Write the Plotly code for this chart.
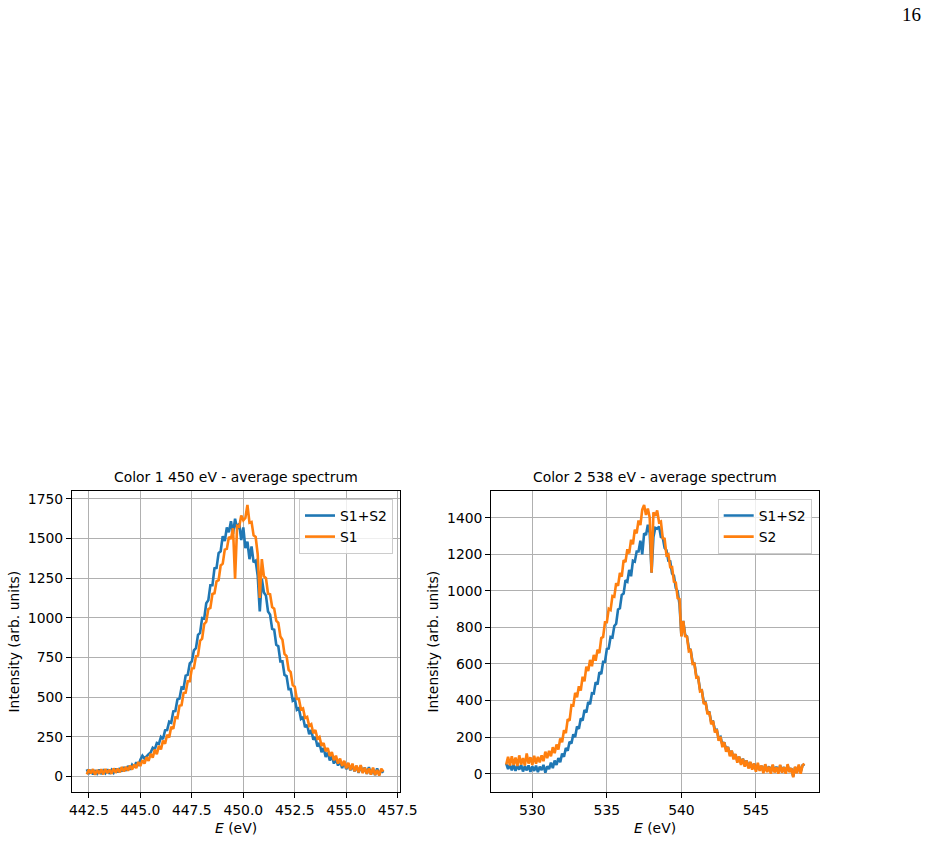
import numpy as np
import plotly.graph_objects as go

# ---------------- data ----------------
# Left panel: Color 1 (450 eV); energy grid starts at 442.4 eV, step 0.1 eV
e1_start, e1_step = 442.4, 0.1
s12_left = [45, 15, 40, 12, 38, 18, 42, 14, 36, 20, 44, 16, 40, 22, 48, 25, 52, 30, 58, 35,
            65, 42, 72, 55, 88, 66, 105, 130, 112, 128, 140, 150, 180, 170, 210, 205, 248, 235,
            290, 292, 345, 338, 410, 412, 485, 490, 560, 555, 635, 640, 712, 725, 795, 808,
            892, 905, 998, 995, 1092, 1110, 1205, 1205, 1312, 1315, 1408, 1420, 1515, 1485,
            1570, 1540, 1610, 1530, 1625, 1560, 1595, 1490, 1570, 1440, 1480, 1370, 1450,
            1350, 1360, 1265, 1040, 1245, 1160, 1140, 1040, 1020, 930, 925, 830, 820, 725,
            725, 640, 632, 550, 550, 478, 488, 420, 430, 362, 372, 310, 325, 265, 292, 230,
            248, 188, 210, 152, 178, 122, 150, 100, 128, 80, 112, 68, 98, 52, 92, 45, 78, 38,
            68, 32, 64, 22, 66, 25, 55, 15, 58, 12, 46, 8, 50, 10, 40, 22]
s1_left = [12, 42, 18, 45, 10, 40, 16, 44, 12, 46, 20, 42, 15, 50, 22, 48, 25, 58, 30, 60,
           35, 68, 42, 75, 52, 90, 65, 102, 80, 120, 98, 142, 118, 168, 140, 192, 170, 225,
           205, 262, 245, 312, 300, 372, 368, 445, 448, 525, 528, 600, 600, 680, 682, 758,
           762, 855, 868, 960, 975, 1055, 1062, 1150, 1155, 1230, 1238, 1330, 1342, 1430,
           1435, 1510, 1498, 1565, 1245, 1580, 1575, 1645, 1615, 1630, 1712, 1600, 1605,
           1520, 1510, 1400, 1125, 1370, 1262, 1250, 1152, 1148, 1068, 1058, 982, 968, 882,
           862, 772, 758, 672, 658, 575, 565, 488, 488, 422, 428, 368, 375, 318, 328, 272,
           292, 238, 248, 192, 210, 158, 178, 128, 152, 102, 130, 80, 112, 65, 98, 50, 85,
           40, 80, 32, 68, 25, 70, 20, 55, 16, 50, 10, 55, 8, 40, 5, 48, 30]

# Right panel: Color 2 (538 eV); energy grid starts at 528.25 eV, step 0.125 eV
e2_start, e2_step = 528.25, 0.125
s12_right = [55, 25, 48, 18, 50, 15, 45, 22, 48, 12, 42, 18, 45, 10, 40, 15, 44, 8, 38, 20,
             48, 5, 40, 25, 60, 30, 72, 48, 85, 62, 110, 92, 140, 125, 175, 165, 215, 200,
             258, 245, 302, 290, 348, 335, 392, 380, 440, 438, 500, 488, 555, 545, 612, 612,
             682, 685, 748, 745, 808, 820, 898, 905, 978, 985, 1058, 1050, 1115, 1080, 1165,
             1160, 1215, 1215, 1275, 1200, 1315, 1305, 1362, 1315, 1100, 1295, 1345, 1340,
             1352, 1295, 1292, 1235, 1222, 1165, 1162, 1095, 1082, 1015, 998, 925, 755, 835,
             760, 750, 685, 675, 610, 602, 535, 525, 460, 452, 392, 390, 335, 335, 282, 285,
             238, 240, 192, 200, 158, 172, 132, 145, 106, 124, 85, 106, 70, 92, 56, 82, 45,
             72, 36, 62, 28, 55, 20, 46, 22, 42, 12, 48, 14, 40, 8, 46, 12, 38, 6, 44, 10, 36,
             5, 45, 12, 30, -15, 35, 8, 42, 10, 45, 52]
s2_right = [50, 92, 45, 95, 48, 88, 42, 100, 50, 85, 45, 110, 55, 90, 48, 98, 55, 92, 62, 100,
            68, 120, 85, 125, 95, 145, 112, 160, 132, 192, 172, 238, 222, 298, 290, 375, 372,
            442, 418, 478, 455, 530, 505, 585, 562, 622, 588, 650, 618, 678, 660, 742, 748,
            828, 828, 902, 895, 972, 968, 1042, 1028, 1098, 1078, 1168, 1158, 1228, 1205,
            1280, 1255, 1335, 1315, 1385, 1360, 1445, 1470, 1415, 1450, 1400, 1100, 1430, 1410,
            1440, 1375, 1380, 1288, 1285, 1195, 1200, 1130, 1130, 1050, 1045, 960, 955, 750,
            835, 752, 750, 670, 675, 600, 602, 525, 528, 450, 455, 380, 392, 325, 338, 270,
            288, 225, 242, 180, 202, 145, 172, 120, 146, 95, 126, 78, 108, 60, 94, 48, 82, 38,
            72, 28, 65, 22, 56, 10, 60, 15, 45, 2, 52, 8, 38, 0, 50, 6, 35, 0, 48, 5, 36, 0,
            52, 8, 30, -20, 38, 2, 50, 0, 45, 55]

titles = ["Color 1 450 eV - average spectrum", "Color 2 538 eV - average spectrum"]
left_xticks = [442.5, 445.0, 447.5, 450.0, 452.5, 455.0, 457.5]
left_yticks = [0, 250, 500, 750, 1000, 1250, 1500, 1750]
right_xticks = [530, 535, 540, 545]
right_yticks = [0, 200, 400, 600, 800, 1000, 1200, 1400]


def grid(start, step, values):
    return np.round(start + step * np.arange(len(values)), 3)


BLUE = "#1f77b4"
ORANGE = "#ff7f0e"
FONT = "DejaVu Sans"
FS = 13.9
LW = 2.6

W, H = 927, 841
fig = go.Figure()

fig.add_trace(go.Scatter(x=grid(e1_start, e1_step, s12_left), y=s12_left, mode="lines",
                         name="S1+S2", line=dict(color=BLUE, width=LW),
                         xaxis="x", yaxis="y", legend="legend"))
fig.add_trace(go.Scatter(x=grid(e1_start, e1_step, s1_left), y=s1_left, mode="lines",
                         name="S1", line=dict(color=ORANGE, width=LW),
                         xaxis="x", yaxis="y", legend="legend"))
fig.add_trace(go.Scatter(x=grid(e2_start, e2_step, s12_right), y=s12_right, mode="lines",
                         name="S1+S2", line=dict(color=BLUE, width=LW),
                         xaxis="x2", yaxis="y2", legend="legend2"))
fig.add_trace(go.Scatter(x=grid(e2_start, e2_step, s2_right), y=s2_right, mode="lines",
                         name="S2", line=dict(color=ORANGE, width=LW),
                         xaxis="x2", yaxis="y2", legend="legend2"))

# pixel geometry of axes boxes
L1, R1 = 72, 400
L2, R2 = 491.3, 819.3
T, B = 490.7, 792.3


def px(xp):
    return xp / W


def py(yp):
    return 1 - yp / H


axis_common = dict(showline=True, linecolor="black", linewidth=1.1, mirror=True,
                   ticks="outside", ticklen=5, tickwidth=1.1, tickcolor="black",
                   showgrid=True, gridcolor="#b0b0b0", gridwidth=1.1, zeroline=False,
                   automargin=False,
                   tickfont=dict(family=FONT, size=FS, color="black"))

legend_common = dict(xanchor="right", yanchor="top",
                     bgcolor="rgba(255,255,255,0.8)", bordercolor="#cccccc", borderwidth=1,
                     font=dict(family=FONT, size=FS, color="black"), tracegroupgap=0,
                     itemwidth=30)

fig.update_layout(
    width=W, height=H, autosize=False,
    margin=dict(l=0, r=0, t=0, b=0, pad=0, autoexpand=False),
    paper_bgcolor="white", plot_bgcolor="white",
    xaxis=dict(domain=[px(L1), px(R1)], range=[441.68, 457.61], tickvals=left_xticks,
               ticktext=[f"{v:.1f}" for v in left_xticks], anchor="y", **axis_common),
    yaxis=dict(domain=[py(B), py(T)], range=[-101, 1802], tickvals=left_yticks,
               anchor="x", **axis_common),
    xaxis2=dict(domain=[px(L2), px(R2)], range=[527.25, 549.25], tickvals=right_xticks,
                anchor="y2", **axis_common),
    yaxis2=dict(domain=[py(B), py(T)], range=[-102, 1548], tickvals=right_yticks,
                anchor="x2", **axis_common),
    legend=dict(x=px(393), y=py(499), **legend_common),
    legend2=dict(x=px(811.7), y=py(499), **legend_common),
    showlegend=True,
)

ann = []
for title, (l, r) in zip(titles, [(L1, R1), (L2, R2)]):
    cx = (l + r) / 2
    ann.append(dict(text=title, x=px(cx), y=py(477), xref="paper", yref="paper",
                    showarrow=False, xanchor="center", yanchor="middle",
                    font=dict(family=FONT, size=FS, color="black")))
    ann.append(dict(text="<i>E</i> (eV)", x=px(cx), y=py(828), xref="paper", yref="paper",
                    showarrow=False, xanchor="center", yanchor="middle",
                    font=dict(family=FONT, size=FS, color="black")))
for xl in [13, 432]:
    ann.append(dict(text="Intensity (arb. units)", x=px(xl), y=py((T + B) / 2),
                    xref="paper", yref="paper", showarrow=False, textangle=-90,
                    xanchor="center", yanchor="middle",
                    font=dict(family=FONT, size=FS, color="black")))
ann.append(dict(text="16", x=px(911), y=py(14), xref="paper", yref="paper",
                showarrow=False, xanchor="center", yanchor="middle",
                font=dict(family="Liberation Serif", size=19, color="black")))
fig.update_layout(annotations=ann)

post = ("document.documentElement.style.overflow='hidden';"
        "document.body.style.margin='0';document.body.style.overflow='hidden';"
        "var gd=document.getElementById('{plot_id}');"
        "Plotly.relayout(gd,{width:927,height:841});")

fig.write_html("out.html", config={"responsive": False}, post_script=post)
